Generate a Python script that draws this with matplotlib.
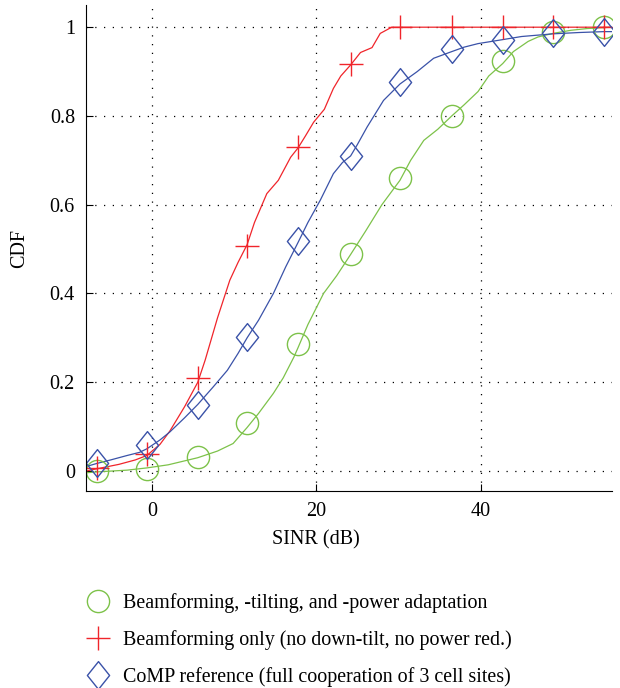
import numpy as np
import matplotlib
matplotlib.use("Agg")
import matplotlib.pyplot as plt
from matplotlib.lines import Line2D
from matplotlib.path import Path

plt.rcParams['font.family'] = ['Liberation Serif', 'DejaVu Serif']

# marker positions (SINR in dB)
mark_x = [-6.7, -0.6, 5.6, 11.6, 17.8, 24.2, 30.2, 36.5, 42.7, 48.8, 55.0]

green_mark_y = [0.0, 0.005, 0.032, 0.108, 0.287, 0.488, 0.661, 0.80, 0.923, 0.989, 1.0]
red_mark_y = [0.006, 0.038, 0.209, 0.507, 0.731, 0.916, 1.0, 1.0, 1.0, 1.0, 1.0]
blue_mark_y = [0.018, 0.058, 0.148, 0.302, 0.518, 0.709, 0.876, 0.95, 0.972, 0.988, 0.989]

# curves
green_x = [-8, -6.7, -3, -0.6, 2, 5.6, 8, 9.9, 11.6, 13, 14.8, 16, 17.3, 17.8, 19, 20.9,
           22.5, 24.2, 26, 28, 30.2, 31.5, 33.1, 34.8, 36.5, 38, 39.7, 41, 42.7, 44,
           45.8, 47, 48.8, 51, 53, 55, 56]
green_y = [-0.004, -0.002, 0.002, 0.007, 0.014, 0.03, 0.045, 0.062, 0.098, 0.13, 0.175,
           0.21, 0.257, 0.278, 0.33, 0.40, 0.44, 0.488, 0.54, 0.60, 0.655, 0.70, 0.745,
           0.77, 0.80, 0.825, 0.855, 0.89, 0.918, 0.945, 0.968, 0.978, 0.986, 0.993,
           0.997, 0.999, 1.0]

red_x = [-8, -6.7, -4, -2, -0.6, 1, 2.2, 4, 5.6, 6.5, 8, 9.5, 10.5, 11.6, 12.5, 14.0,
         15.4, 16.9, 17.8, 18.7, 19.7, 21, 22.1, 23, 24.2, 25.4, 26.8, 27.8, 28.7, 29.2,
         30.2, 36.5, 42.7, 48.8, 55, 56]
red_y = [0.0, 0.005, 0.015, 0.025, 0.035, 0.06, 0.09, 0.145, 0.2, 0.25, 0.345, 0.43,
         0.47, 0.51, 0.56, 0.625, 0.655, 0.707, 0.728, 0.755, 0.786, 0.815, 0.862,
         0.89, 0.915, 0.943, 0.954, 0.986, 0.995, 1.0, 1.0, 1.0, 1.0, 1.0, 1.0, 1.0]

blue_x = [-8, -6.7, -5, -3, -1.5, -0.6, 1, 2.2, 4, 5.6, 7.5, 9.2, 10.5, 11.6, 13, 14.8,
          16.3, 17.8, 19, 20.5, 22.1, 23.2, 24.2, 25, 26.2, 28.2, 30.2, 32.3, 34.3,
          36.5, 38, 39.7, 42.7, 45, 48.8, 52, 55, 56]
blue_y = [0.01, 0.017, 0.025, 0.035, 0.042, 0.05, 0.07, 0.088, 0.12, 0.15, 0.19,
          0.227, 0.265, 0.30, 0.34, 0.40, 0.46, 0.515, 0.56, 0.61, 0.67, 0.695, 0.71,
          0.735, 0.775, 0.835, 0.872, 0.90, 0.93, 0.945, 0.955, 0.963, 0.972, 0.979,
          0.985, 0.988, 0.99, 0.99]

labels = ["Beamforming, -tilting, and -power adaptation",
          "Beamforming only (no down-tilt, no power red.)",
          "CoMP reference (full cooperation of 3 cell sites)"]

green = '#7dc24a'
red = '#f0252b'
blue = '#3a52a8'

# diamond a bit taller than wide, like the original
diamond = Path([(0, 1), (0.8, 0), (0, -1), (-0.8, 0), (0, 1)],
               [Path.MOVETO, Path.LINETO, Path.LINETO, Path.LINETO, Path.CLOSEPOLY])

fig = plt.figure(figsize=(6.2, 6.88), dpi=100)
ax = fig.add_axes([86 / 620, 1 - 491 / 688, 526 / 620, 486 / 688])

ax.plot(green_x, green_y, color=green, lw=0.9)
ax.plot(red_x, red_y, color=red, lw=0.9)
ax.plot(blue_x, blue_y, color=blue, lw=0.9)

ax.plot(mark_x, green_mark_y, 'o', ms=16, mfc='none', mec=green, mew=1.0, ls='none')
ax.plot(mark_x, red_mark_y, '+', ms=17, mec=red, mew=1.0, ls='none')
ax.plot(mark_x, blue_mark_y, marker=diamond, ms=20, mfc='none', mec=blue, mew=1.0, ls='none')

ax.set_xlim(-8, 56)
ax.set_ylim(-0.045, 1.05)
ax.set_xticks([0, 20, 40])
ax.set_yticks([0, 0.2, 0.4, 0.6, 0.8, 1])
ax.set_yticklabels(['0', '0.2', '0.4', '0.6', '0.8', '1'])
ax.tick_params(direction='in', length=5, width=0.8, labelsize=14.5, pad=8)
ax.spines['top'].set_visible(False)
ax.spines['right'].set_visible(False)
ax.grid(True, color='black', linestyle=(0, (1, 6)), linewidth=0.9)

ax.set_xlabel('SINR (dB)', fontsize=14.5)
ax.xaxis.set_label_coords((315.5 - 86) / 526, -(540 - 491) / 486)
ax.set_ylabel('CDF', fontsize=14.5)
ax.yaxis.set_label_coords(-(86 - 20) / 526, 0.5)
ax.xaxis.label.set_va('center')
ax.yaxis.label.set_va('center')

handles = [Line2D([], [], marker='o', ls='none', ms=16, mfc='none', mec=green, mew=1.0),
           Line2D([], [], marker='+', ls='none', ms=17, mec=red, mew=1.0),
           Line2D([], [], marker=diamond, ls='none', ms=20, mfc='none', mec=blue, mew=1.0)]
fig.legend(handles, labels, loc='upper left', bbox_to_anchor=(74 / 620, 1 - 585 / 688),
           frameon=False, fontsize=14.4, handletextpad=0.45, labelspacing=0.85,
           handlelength=1.6, borderaxespad=0)

fig.savefig('out.png', dpi=100)
